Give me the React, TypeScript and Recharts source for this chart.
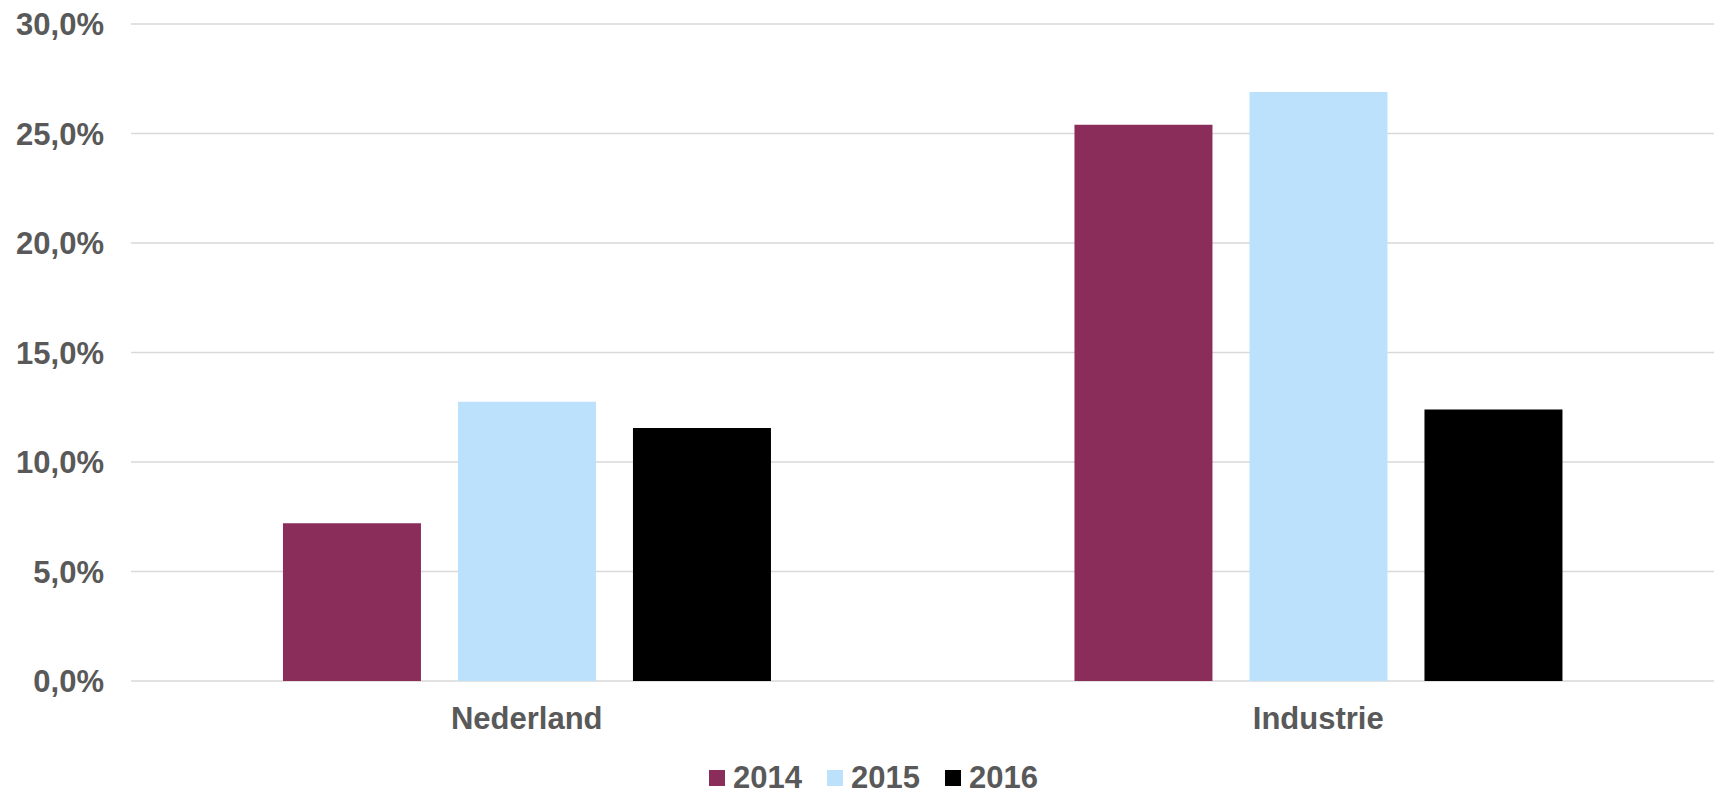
import { BarChart, Bar, XAxis, YAxis, CartesianGrid } from 'recharts'

const categories = ['Nederland', 'Industrie']
const series2014 = [7.2, 25.4]
const series2015 = [12.75, 26.9]
const series2016 = [11.55, 12.4]
const yTicks = [0, 5, 10, 15, 20, 25, 30]

const years = [
    { key: 'y2014', name: '2014', color: '#8B2D5B' },
    { key: 'y2015', name: '2015', color: '#BBE1FD' },
    { key: 'y2016', name: '2016', color: '#000000' },
]

const data = categories.map((c, i) => ({
    category: c,
    y2014: series2014[i],
    y2015: series2015[i],
    y2016: series2016[i],
}))

const font = '"Liberation Sans", Arial, sans-serif'
const textColor = '#595959'

const formatPct = (v: number) => v.toFixed(1).replace('.', ',') + '%'

export default function App() {
    return (
        <div style={{ position: 'absolute', left: 0, top: 0, width: 1717, height: 795, background: '#fff' }}>
            <BarChart
                width={1717}
                height={795}
                data={data}
                margin={{ top: 24, right: 3, left: 0, bottom: 54 }}
                barCategoryGap="19.2%"
                barGap={37}
            >
                <CartesianGrid vertical={false} stroke="#D9D9D9" strokeWidth={1.5} />
                <XAxis
                    dataKey="category"
                    height={60}
                    axisLine={false}
                    tickLine={false}
                    tickSize={0}
                    tickMargin={26}
                    tick={{ fontSize: 31, fontWeight: 700, fill: textColor, fontFamily: font }}
                />
                <YAxis
                    domain={[0, 30]}
                    ticks={yTicks}
                    width={131}
                    axisLine={false}
                    tickLine={false}
                    tickSize={0}
                    tickMargin={27}
                    tickFormatter={formatPct}
                    tick={{ fontSize: 31, fontWeight: 700, fill: textColor, fontFamily: font }}
                />
                {years.map((y) => (
                    <Bar key={y.key} dataKey={y.key} name={y.name} fill={y.color} isAnimationActive={false} />
                ))}
            </BarChart>

            <div
                style={{
                    position: 'absolute',
                    top: 762,
                    left: 30,
                    width: 1687,
                    height: 32,
                    display: 'flex',
                    justifyContent: 'center',
                    alignItems: 'center',
                    fontFamily: font,
                    fontWeight: 700,
                    fontSize: 31,
                    color: textColor,
                    gap: 25,
                }}
            >
                {years.map((y) => (
                    <div key={y.key} style={{ display: 'flex', alignItems: 'center', gap: 8 }}>
                        <span style={{ width: 16, height: 16, background: y.color, display: 'inline-block' }} />
                        <span style={{ lineHeight: '32px' }}>{y.name}</span>
                    </div>
                ))}
            </div>
        </div>
    )
}
